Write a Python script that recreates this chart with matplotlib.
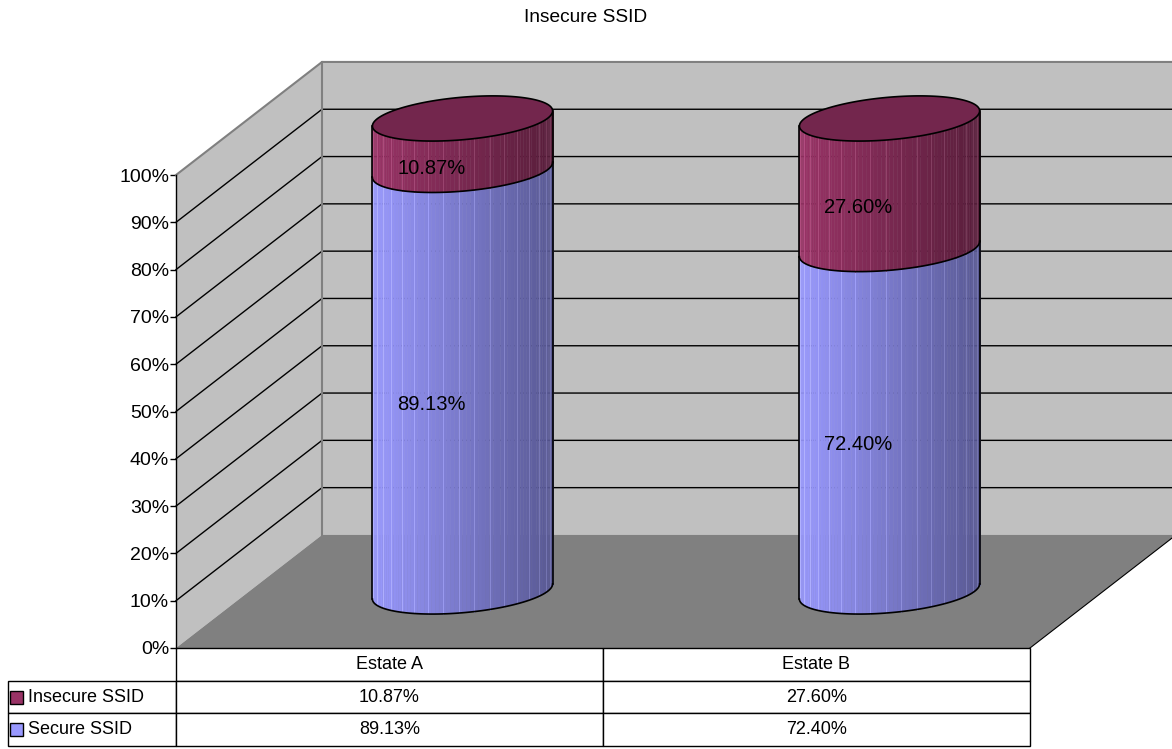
import numpy as np
import matplotlib
matplotlib.use("Agg")
from matplotlib import pyplot as plt
from matplotlib.patches import Polygon, Rectangle
from matplotlib.table import Table
from matplotlib.ticker import PercentFormatter
from matplotlib.colors import to_rgb

plt.rcParams['font.family'] = ['Liberation Sans', 'DejaVu Sans']

# data
title = "Insecure SSID"
categories = ["Estate A", "Estate B"]
series_names = ["Insecure SSID", "Secure SSID"]
insecure = [10.87, 27.60]
secure = [89.13, 72.40]
y_ticks = [0, 10, 20, 30, 40, 50, 60, 70, 80, 90, 100]

col_insecure = "#993366"
col_secure = "#9999ff"

# fake 3d: shift of the back wall in data units (x = categories, y = fraction)
DX = 0.342
DY = 0.239
DEPTH_BAR = 0.5
DEPTH_LABEL = 0.288
RX = 0.211     # cylinder radius along x
EY_C = 0.016   # ellipse tilt
EY_S = 0.045   # ellipse half height


def proj(x, y, d):
    return x + d * DX, y + d * DY


def ell(cx, cy, th):
    return cx + RX * np.cos(th), cy + EY_C * np.cos(th) + EY_S * np.sin(th)


def cylinder(ax, xc, b, t, color, is_top):
    cx, cb = proj(xc, b, DEPTH_BAR)
    _, ct = proj(xc, t, DEPTH_BAR)
    base = np.array(to_rgb(color))
    th = np.linspace(np.pi, 2 * np.pi, 73)
    for k in range(len(th) - 1):
        t0, t1 = th[k], th[k + 1]
        xb0, yb0 = ell(cx, cb, t0)
        xb1, yb1 = ell(cx, cb, t1)
        xt0, yt0 = ell(cx, ct, t0)
        xt1, yt1 = ell(cx, ct, t1)
        f = 1 - 0.42 * (np.cos((t0 + t1) / 2) + 1) / 2
        c = np.clip(base * f, 0, 1)
        ax.add_patch(Polygon([(xb0, yb0), (xb1, yb1), (xt1, yt1), (xt0, yt0)],
                             closed=True, facecolor=c, edgecolor=c, lw=0.3,
                             zorder=4, clip_on=False))
        if k % 4 == 2:
            lc = np.clip(c + 0.12, 0, 1)
            ax.plot([xb1, xt1], [yb1, yt1], color=lc, lw=0.6, zorder=4.1,
                    clip_on=False)
    # outline
    xs, ys = ell(cx, cb, th)
    ax.plot(xs, ys, color="k", lw=1.2, zorder=5, clip_on=False)
    ax.plot([cx - RX, cx - RX], [cb - EY_C, ct - EY_C], color="k", lw=1.2,
            zorder=5, clip_on=False)
    ax.plot([cx + RX, cx + RX], [cb + EY_C, ct + EY_C], color="k", lw=1.2,
            zorder=5, clip_on=False)
    if is_top:
        tt = np.linspace(0, 2 * np.pi, 200)
        xs, ys = ell(cx, ct, tt)
        ax.add_patch(Polygon(np.column_stack([xs, ys]), closed=True,
                             facecolor=np.clip(base * 0.75, 0, 1),
                             edgecolor="k", lw=1.2, zorder=6, clip_on=False))


fig = plt.figure(figsize=(11.72, 7.49), dpi=100)
ax = fig.add_axes([176 / 1172, 1 - 648 / 749, 854 / 1172, 473 / 749])
ax.patch.set_visible(False)
ax.set_xlim(0, 2)
ax.set_ylim(0, 1)

# walls and floor
ax.add_patch(Polygon([proj(0, 0, 1), proj(2, 0, 1), proj(2, 1, 1), proj(0, 1, 1)],
                     facecolor="#c0c0c0", edgecolor="none", zorder=1, clip_on=False))
ax.add_patch(Polygon([proj(0, 0, 0), proj(0, 0, 1), proj(0, 1, 1), proj(0, 1, 0)],
                     facecolor="#c0c0c0", edgecolor="none", zorder=1, clip_on=False))
ax.add_patch(Polygon([proj(0, 0, 0), proj(2, 0, 0), proj(2, 0, 1), proj(0, 0, 1)],
                     facecolor="#808080", edgecolor="none", zorder=1.5, clip_on=False))
p0, p1 = proj(2, 0, 0), proj(2, 0, 1)
ax.plot([p0[0], p1[0]], [p0[1], p1[1]], color="k", lw=0.8, zorder=2, clip_on=False)

# gridlines
for v in y_ticks[1:-1]:
    pts = [proj(0, v / 100, 0), proj(0, v / 100, 1), proj(2, v / 100, 1)]
    ax.plot([p[0] for p in pts], [p[1] for p in pts], color="k", lw=1.0,
            zorder=2, clip_on=False)
pts = [proj(0, 1, 0), proj(0, 1, 1), proj(2, 1, 1)]
ax.plot([p[0] for p in pts], [p[1] for p in pts], color="#808080", lw=1.5,
        zorder=2, clip_on=False)
pts = [proj(0, 0, 1), proj(0, 1, 1)]
ax.plot([p[0] for p in pts], [p[1] for p in pts], color="#808080", lw=1.5,
        zorder=2, clip_on=False)

# cylinders + labels
for i in range(len(categories)):
    xc = i + 0.5
    s = secure[i] / 100
    top = s + insecure[i] / 100
    cylinder(ax, xc, 0, s, col_secure, False)
    cylinder(ax, xc, s, top, col_insecure, True)
    for b, t, v in [(0, s, secure[i]), (s, top, insecure[i])]:
        lx, ly = proj(xc, (b + t) / 2, DEPTH_LABEL)
        ax.text(lx, ly, f"{v:.2f}%", ha="center", va="center", fontsize=14.5,
                zorder=8)

# axis
ax.set_yticks([v / 100 for v in y_ticks])
ax.yaxis.set_major_formatter(PercentFormatter(1.0, decimals=0))
ax.tick_params(axis="y", direction="out", length=4, width=1, pad=1,
               labelsize=14, colors="k")
ax.set_xticks([])
for side in ["top", "right", "bottom"]:
    ax.spines[side].set_visible(False)
ax.spines["left"].set_linewidth(1)
ax.spines["left"].set_zorder(3)

# data table (widths/heights in axes fraction)
row_h = 98 / 3 / 473
w_lab = 168 / 854
w_col = 0.5
tbl = Table(ax, bbox=[0, -3 * row_h, 1, 3 * row_h])
for j, cat in enumerate(categories):
    tbl.add_cell(0, j, w_col, row_h, text=cat, loc="center")
for r, (name, vals) in enumerate(zip(series_names, [insecure, secure]), start=1):
    c = tbl.add_cell(r, -1, w_lab, row_h, text=name, loc="left")
    c.PAD = 0.12
    for j, v in enumerate(vals):
        tbl.add_cell(r, j, w_col, row_h, text=f"{v:.2f}%", loc="center")
tbl.auto_set_font_size(False)
tbl.set_fontsize(13)
tbl.set_zorder(3)
ax.add_table(tbl)

# legend keys in the table
for r, col in enumerate([col_insecure, col_secure], start=1):
    yc = -row_h * (r + 0.5)
    ax.add_patch(Rectangle((-166 / 854, yc - 6.5 / 473), 13 / 854, 13 / 473,
                           transform=ax.transAxes, facecolor=col, edgecolor="k",
                           lw=1, clip_on=False, zorder=10))

fig.text(0.5, 1 - 18 / 749, title, ha="center", va="center", fontsize=13.8)

fig.savefig("out.png", dpi=100)
